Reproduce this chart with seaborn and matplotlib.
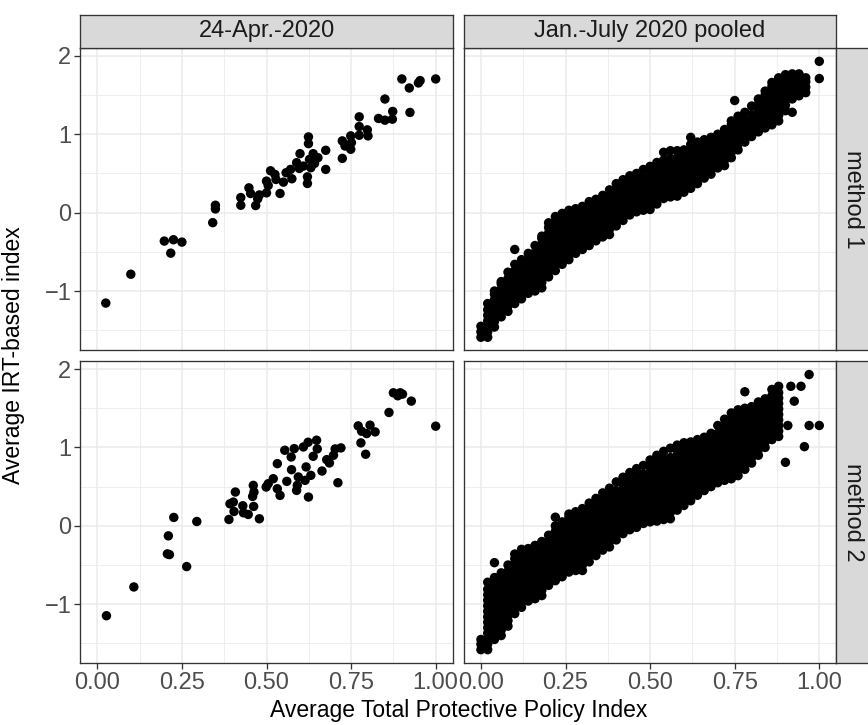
import numpy as np
import pandas as pd
import matplotlib.pyplot as plt
import seaborn as sns

# =============================================================================
# Data
# =============================================================================
periods = ["24-Apr.-2020", "Jan.-July 2020 pooled"]
methods = ["method 1", "method 2"]
x_ticks = [0.0, 0.25, 0.5, 0.75, 1.0]
x_tick_labels = ["0.00", "0.25", "0.50", "0.75", "1.00"]
y_ticks = [-1, 0, 1, 2]
y_tick_labels = ["\u22121", "0", "1", "2"]

# single day, method 1
apr_m1_x = [0.025, 0.099, 0.198, 0.225, 0.250, 0.217, 0.341, 0.349, 0.349, 0.424,
            0.424, 0.448, 0.453, 0.468, 0.474, 0.479, 0.500, 0.500, 0.505, 0.512,
            0.525, 0.528, 0.540, 0.550, 0.558, 0.571, 0.575, 0.589, 0.597, 0.599,
            0.609, 0.621, 0.621, 0.624, 0.624, 0.627, 0.631, 0.638, 0.642, 0.652,
            0.675, 0.675, 0.724, 0.724, 0.732, 0.749, 0.749, 0.751, 0.774, 0.774,
            0.774, 0.798, 0.800, 0.831, 0.850, 0.850, 0.872, 0.873, 0.900, 0.922,
            0.924, 0.949, 0.954, 1.000]
apr_m1_y = [-1.154, -0.786, -0.363, -0.346, -0.376, -0.517, -0.128, 0.094, 0.047, 0.192,
            0.094, 0.316, 0.244, 0.090, 0.175, 0.226, 0.252, 0.402, 0.346, 0.534,
            0.487, 0.423, 0.244, 0.389, 0.509, 0.551, 0.432, 0.637, 0.564, 0.752,
            0.594, 0.372, 0.457, 0.966, 0.880, 0.679, 0.573, 0.752, 0.628, 0.701,
            0.795, 0.551, 0.692, 0.915, 0.850, 0.808, 0.979, 0.893, 1.222, 1.098,
            0.987, 1.056, 0.979, 1.201, 1.179, 1.449, 1.192, 1.291, 1.705, 1.590,
            1.278, 1.654, 1.684, 1.705]

# single day, method 2
apr_m2_x = [0.027, 0.108, 0.207, 0.210, 0.213, 0.226, 0.264, 0.294, 0.389, 0.392,
            0.402, 0.404, 0.408, 0.430, 0.432, 0.446, 0.459, 0.461, 0.462, 0.463,
            0.479, 0.499, 0.505, 0.520, 0.532, 0.532, 0.540, 0.554, 0.560, 0.573,
            0.574, 0.582, 0.589, 0.591, 0.594, 0.609, 0.614, 0.617, 0.623, 0.624,
            0.631, 0.638, 0.648, 0.650, 0.664, 0.678, 0.686, 0.698, 0.703, 0.711,
            0.720, 0.771, 0.779, 0.781, 0.793, 0.796, 0.806, 0.821, 0.862, 0.875,
            0.888, 0.895, 0.902, 0.928, 1.000]
apr_m2_y = [-1.147, -0.780, -0.358, -0.128, -0.367, 0.107, -0.520, 0.055, 0.081, 0.281,
            0.303, 0.183, 0.431, 0.256, 0.166, 0.145, 0.375, 0.516, 0.247, 0.431,
            0.090, 0.495, 0.537, 0.601, 0.793, 0.473, 0.388, 0.964, 0.567, 0.878,
            0.716, 0.985, 0.452, 0.516, 0.623, 1.006, 0.580, 0.751, 1.066, 0.367,
            0.644, 0.887, 1.092, 0.981, 0.699, 0.844, 0.802, 0.900, 0.981, 0.550,
            0.994, 1.275, 1.058, 1.207, 0.913, 1.177, 1.284, 1.198, 1.446, 1.697,
            1.659, 1.697, 1.680, 1.591, 1.271]

# pooled, method 1: (policy index, [IRT values estimated down that column])
pooled_m1 = [
    (0.00, [-1.59, -1.52, -1.45]),
    (0.02, [-1.59, -1.52, -1.45, -1.38, -1.31, -1.24, -1.16]),
    (0.04, [-1.46, -1.39, -1.32, -1.25, -1.18, -1.11, -1.04, -1.00]),
    (0.06, [-1.33, -1.26, -1.19, -1.12, -1.05, -0.98, -0.91, -0.88]),
    (0.08, [-1.26, -1.19, -1.12, -1.05, -0.98, -0.91, -0.84, -0.76]),
    (0.10, [-1.16, -1.09, -1.02, -0.95, -0.88, -0.81, -0.74, -0.66, -0.47]),
    (0.12, [-1.10, -1.03, -0.96, -0.89, -0.82, -0.75, -0.68, -0.60]),
    (0.14, [-1.03, -0.96, -0.89, -0.82, -0.75, -0.68, -0.61, -0.52]),
    (0.16, [-1.00, -0.93, -0.86, -0.79, -0.72, -0.65, -0.58, -0.51, -0.42]),
    (0.18, [-0.96, -0.89, -0.82, -0.75, -0.68, -0.61, -0.54, -0.47, -0.40, -0.33, -0.30]),
    (0.20, [-0.82, -0.75, -0.68, -0.61, -0.54, -0.47, -0.40, -0.33, -0.26, -0.19, -0.13]),
    (0.22, [-0.74, -0.67, -0.60, -0.53, -0.46, -0.39, -0.32, -0.25, -0.18, -0.11, -0.05]),
    (0.24, [-0.66, -0.59, -0.52, -0.45, -0.38, -0.31, -0.24, -0.17, -0.10, -0.01]),
    (0.26, [-0.60, -0.53, -0.46, -0.39, -0.32, -0.25, -0.18, -0.11, -0.04, 0.03]),
    (0.28, [-0.52, -0.45, -0.38, -0.31, -0.24, -0.17, -0.10, -0.03, 0.05]),
    (0.30, [-0.47, -0.40, -0.33, -0.26, -0.19, -0.12, -0.05, 0.02, 0.08]),
    (0.32, [-0.42, -0.35, -0.28, -0.21, -0.14, -0.07, 0.00, 0.07, 0.14]),
    (0.34, [-0.36, -0.29, -0.22, -0.15, -0.08, -0.01, 0.06, 0.13, 0.17]),
    (0.36, [-0.31, -0.24, -0.17, -0.10, -0.03, 0.04, 0.11, 0.18, 0.22]),
    (0.38, [-0.28, -0.21, -0.14, -0.07, 0.00, 0.07, 0.14, 0.21, 0.29]),
    (0.40, [-0.17, -0.10, -0.03, 0.04, 0.11, 0.18, 0.25, 0.32, 0.37]),
    (0.42, [-0.10, -0.03, 0.04, 0.11, 0.18, 0.25, 0.32, 0.39, 0.42]),
    (0.44, [-0.03, 0.04, 0.11, 0.18, 0.25, 0.32, 0.39, 0.47]),
    (0.46, [0.01, 0.08, 0.15, 0.22, 0.29, 0.36, 0.43, 0.50]),
    (0.48, [0.03, 0.10, 0.17, 0.24, 0.31, 0.38, 0.45, 0.55]),
    (0.50, [0.04, 0.11, 0.18, 0.25, 0.32, 0.39, 0.46, 0.53, 0.59]),
    (0.52, [0.11, 0.18, 0.25, 0.32, 0.39, 0.46, 0.53, 0.60, 0.64]),
    (0.54, [0.18, 0.25, 0.32, 0.39, 0.46, 0.53, 0.60, 0.67, 0.77]),
    (0.56, [0.20, 0.27, 0.34, 0.41, 0.48, 0.55, 0.62, 0.69, 0.79]),
    (0.58, [0.21, 0.28, 0.35, 0.42, 0.49, 0.56, 0.63, 0.70, 0.79]),
    (0.60, [0.26, 0.33, 0.40, 0.47, 0.54, 0.61, 0.68, 0.75, 0.80]),
    (0.62, [0.31, 0.38, 0.45, 0.52, 0.59, 0.66, 0.73, 0.80, 0.87, 0.96]),
    (0.64, [0.37, 0.44, 0.51, 0.58, 0.65, 0.72, 0.79, 0.86, 0.90]),
    (0.66, [0.44, 0.51, 0.58, 0.65, 0.72, 0.79, 0.86, 0.93]),
    (0.68, [0.49, 0.56, 0.63, 0.70, 0.77, 0.84, 0.91, 0.96]),
    (0.70, [0.57, 0.64, 0.71, 0.78, 0.85, 0.92, 1.00]),
    (0.72, [0.60, 0.67, 0.74, 0.81, 0.88, 0.95, 1.02, 1.06]),
    (0.74, [0.70, 0.77, 0.84, 0.91, 0.98, 1.05, 1.12, 1.17]),
    (0.75, [1.43]),
    (0.76, [0.80, 0.87, 0.94, 1.01, 1.08, 1.15, 1.23]),
    (0.78, [0.90, 0.97, 1.04, 1.11, 1.18, 1.28]),
    (0.80, [0.97, 1.04, 1.11, 1.18, 1.25, 1.36]),
    (0.82, [1.03, 1.10, 1.17, 1.24, 1.31, 1.38, 1.45]),
    (0.84, [1.08, 1.15, 1.22, 1.29, 1.36, 1.43, 1.50, 1.55]),
    (0.86, [1.12, 1.19, 1.26, 1.33, 1.40, 1.47, 1.54, 1.61, 1.66]),
    (0.88, [1.17, 1.24, 1.31, 1.38, 1.45, 1.52, 1.59, 1.66, 1.72]),
    (0.90, [1.30, 1.37, 1.44, 1.51, 1.58, 1.65, 1.72, 1.76]),
    (0.92, [1.28, 1.45, 1.52, 1.59, 1.66, 1.73, 1.77]),
    (0.94, [1.49, 1.56, 1.63, 1.70, 1.77]),
    (0.96, [1.53, 1.60, 1.67, 1.72]),
    (1.00, [1.71, 1.93]),
]

# pooled, method 2
pooled_m2 = [
    (0.00, [-1.58, -1.51, -1.45]),
    (0.02, [-1.58, -1.51, -1.44, -1.37, -1.30, -1.23, -1.16, -1.09, -1.02, -0.95, -0.88, -0.81, -0.72]),
    (0.04, [-1.45, -1.38, -1.31, -1.24, -1.17, -1.10, -1.03, -0.96, -0.89, -0.82, -0.75, -0.66, -0.47]),
    (0.06, [-1.40, -1.33, -1.26, -1.19, -1.12, -1.05, -0.98, -0.91, -0.84, -0.77, -0.70, -0.60]),
    (0.08, [-1.28, -1.21, -1.14, -1.07, -1.00, -0.93, -0.86, -0.79, -0.72, -0.65, -0.58, -0.50]),
    (0.10, [-1.12, -1.05, -0.98, -0.91, -0.84, -0.77, -0.70, -0.63, -0.56, -0.49, -0.42, -0.36]),
    (0.12, [-1.04, -0.97, -0.90, -0.83, -0.76, -0.69, -0.62, -0.55, -0.48, -0.41, -0.34, -0.30]),
    (0.14, [-0.96, -0.89, -0.82, -0.75, -0.68, -0.61, -0.54, -0.47, -0.40, -0.33, -0.29]),
    (0.16, [-0.93, -0.86, -0.79, -0.72, -0.65, -0.58, -0.51, -0.44, -0.37, -0.30, -0.25]),
    (0.18, [-0.89, -0.82, -0.75, -0.68, -0.61, -0.54, -0.47, -0.40, -0.33, -0.26, -0.20]),
    (0.20, [-0.76, -0.69, -0.62, -0.55, -0.48, -0.41, -0.34, -0.27, -0.20, -0.12]),
    (0.22, [-0.70, -0.63, -0.56, -0.49, -0.42, -0.35, -0.28, -0.21, -0.14, -0.07, 0.00, 0.11]),
    (0.24, [-0.65, -0.58, -0.51, -0.44, -0.37, -0.30, -0.23, -0.16, -0.09, -0.02, 0.05]),
    (0.26, [-0.59, -0.52, -0.45, -0.38, -0.31, -0.24, -0.17, -0.10, -0.03, 0.04, 0.11, 0.15]),
    (0.28, [-0.57, -0.50, -0.43, -0.36, -0.29, -0.22, -0.15, -0.08, -0.01, 0.06, 0.13, 0.18]),
    (0.30, [-0.57, -0.50, -0.43, -0.36, -0.29, -0.22, -0.15, -0.08, -0.01, 0.06, 0.13, 0.22]),
    (0.32, [-0.46, -0.39, -0.32, -0.25, -0.18, -0.11, -0.04, 0.03, 0.10, 0.17, 0.24, 0.29]),
    (0.34, [-0.38, -0.31, -0.24, -0.17, -0.10, -0.03, 0.04, 0.11, 0.18, 0.25, 0.35]),
    (0.36, [-0.31, -0.24, -0.17, -0.10, -0.03, 0.04, 0.11, 0.18, 0.25, 0.32, 0.42]),
    (0.38, [-0.27, -0.20, -0.13, -0.06, 0.01, 0.08, 0.15, 0.22, 0.29, 0.36, 0.43, 0.48]),
    (0.40, [-0.18, -0.11, -0.04, 0.03, 0.10, 0.17, 0.24, 0.31, 0.38, 0.45, 0.56]),
    (0.42, [-0.10, -0.03, 0.04, 0.11, 0.18, 0.25, 0.32, 0.39, 0.46, 0.53, 0.62]),
    (0.44, [-0.05, 0.02, 0.09, 0.16, 0.23, 0.30, 0.37, 0.44, 0.51, 0.58, 0.68]),
    (0.46, [-0.02, 0.05, 0.12, 0.19, 0.26, 0.33, 0.40, 0.47, 0.54, 0.61, 0.68, 0.73]),
    (0.48, [0.03, 0.10, 0.17, 0.24, 0.31, 0.38, 0.45, 0.52, 0.59, 0.66, 0.77]),
    (0.50, [0.05, 0.12, 0.19, 0.26, 0.33, 0.40, 0.47, 0.54, 0.61, 0.68, 0.75, 0.84]),
    (0.52, [0.06, 0.13, 0.20, 0.27, 0.34, 0.41, 0.48, 0.55, 0.62, 0.69, 0.76, 0.83, 0.90]),
    (0.54, [0.08, 0.15, 0.22, 0.29, 0.36, 0.43, 0.50, 0.57, 0.64, 0.71, 0.78, 0.85, 0.95]),
    (0.56, [0.09, 0.17, 0.24, 0.31, 0.38, 0.45, 0.52, 0.59, 0.66, 0.73, 0.80, 0.87, 0.99]),
    (0.58, [0.20, 0.27, 0.34, 0.41, 0.48, 0.55, 0.62, 0.69, 0.76, 0.83, 0.90, 0.97, 1.03]),
    (0.60, [0.26, 0.33, 0.40, 0.47, 0.54, 0.61, 0.68, 0.75, 0.82, 0.89, 0.96, 1.06]),
    (0.62, [0.32, 0.39, 0.46, 0.53, 0.60, 0.67, 0.74, 0.81, 0.88, 0.95, 1.02, 1.07]),
    (0.64, [0.39, 0.46, 0.53, 0.60, 0.67, 0.74, 0.81, 0.88, 0.95, 1.02, 1.10]),
    (0.66, [0.45, 0.52, 0.59, 0.66, 0.73, 0.80, 0.87, 0.94, 1.01, 1.08, 1.13]),
    (0.68, [0.50, 0.57, 0.64, 0.71, 0.78, 0.85, 0.92, 0.99, 1.06, 1.13, 1.18]),
    (0.70, [0.55, 0.62, 0.69, 0.76, 0.83, 0.90, 0.97, 1.04, 1.11, 1.18, 1.28]),
    (0.72, [0.58, 0.65, 0.72, 0.79, 0.86, 0.93, 1.00, 1.07, 1.14, 1.21, 1.28, 1.36]),
    (0.74, [0.60, 0.67, 0.74, 0.81, 0.88, 0.95, 1.02, 1.09, 1.16, 1.23, 1.30, 1.37, 1.44]),
    (0.76, [0.64, 0.71, 0.78, 0.85, 0.92, 0.99, 1.06, 1.13, 1.20, 1.27, 1.34, 1.41, 1.48]),
    (0.78, [0.72, 0.79, 0.86, 0.93, 1.00, 1.07, 1.14, 1.21, 1.28, 1.35, 1.42, 1.50, 1.71]),
    (0.80, [0.80, 0.87, 0.94, 1.01, 1.08, 1.15, 1.22, 1.29, 1.36, 1.43, 1.52]),
    (0.82, [0.90, 0.97, 1.04, 1.11, 1.18, 1.25, 1.32, 1.39, 1.46, 1.52, 1.58]),
    (0.84, [1.00, 1.07, 1.14, 1.21, 1.28, 1.35, 1.42, 1.49, 1.56, 1.62]),
    (0.86, [1.10, 1.17, 1.24, 1.31, 1.38, 1.45, 1.52, 1.59, 1.66, 1.74]),
    (0.88, [1.14, 1.21, 1.28, 1.35, 1.42, 1.49, 1.56, 1.63, 1.70, 1.78]),
    (0.90, [0.81]),
    (0.907, [1.28]),
    (0.916, [1.78]),
    (0.926, [1.59]),
    (0.946, [1.78]),
    (0.956, [1.01]),
    (0.97, [1.28, 1.93]),
    (1.00, [1.28]),
]


# =============================================================================
# Long table for plotting
# =============================================================================
def expand(cols):
    xs = [x for x, ys in cols for _ in ys]
    ys = [y for _, ys in cols for y in ys]
    return xs, ys


frames = []
for period, method, (xs, ys) in [
    (periods[0], methods[0], (apr_m1_x, apr_m1_y)),
    (periods[0], methods[1], (apr_m2_x, apr_m2_y)),
    (periods[1], methods[0], expand(pooled_m1)),
    (periods[1], methods[1], expand(pooled_m2)),
]:
    frames.append(pd.DataFrame({"period": period, "method": method,
                                "policy": xs, "irt": ys}))
df = pd.concat(frames, ignore_index=True)

# =============================================================================
# Figure (ggplot theme_bw look)
# =============================================================================
sns.set_theme(style="white")
plt.rcParams["font.family"] = ["Liberation Sans", "DejaVu Sans"]

W, H = 868, 725
fig = plt.figure(figsize=(W / 100, H / 100), dpi=100)


def px_rect(left, top, width, height):
    return [left / W, 1 - (top + height) / H, width / W, height / H]


col_left = [80.4, 464.0]
row_top = [48.0, 361.2]
pw, ph = 372.2, 301.8
strip_h = 33.5

TICK_FS = 17
STRIP_FS = 17
TITLE_FS = 16.5
DARK = "#333333"

for r, method in enumerate(methods):
    for c, period in enumerate(periods):
        ax = fig.add_axes(px_rect(col_left[c], row_top[r], pw, ph))
        sub = df[(df["period"] == period) & (df["method"] == method)]
        sns.scatterplot(data=sub, x="policy", y="irt", ax=ax, color="black",
                        s=46, linewidth=0, edgecolor="none", legend=False)
        ax.set_xlim(-0.05, 1.05)
        ax.set_ylim(-1.75, 2.10)
        ax.set_xticks(x_ticks)
        ax.set_xticklabels(x_tick_labels)
        ax.set_yticks(y_ticks)
        ax.set_yticklabels(y_tick_labels)
        ax.set_xticks([0.125, 0.375, 0.625, 0.875], minor=True)
        ax.set_yticks([-1.5, -0.5, 0.5, 1.5], minor=True)
        ax.set_axisbelow(True)
        ax.grid(which="major", color="#EBEBEB", linewidth=1.15)
        ax.grid(which="minor", color="#EBEBEB", linewidth=0.6)
        ax.tick_params(which="minor", length=0)
        ax.tick_params(which="major", length=4, width=0.95, color=DARK,
                       labelcolor="#4D4D4D", labelsize=TICK_FS, pad=2.5)
        ax.tick_params(left=(c == 0), labelleft=(c == 0),
                       bottom=(r == 1), labelbottom=(r == 1))
        ax.set_xlabel("")
        ax.set_ylabel("")
        for sp in ax.spines.values():
            sp.set_color(DARK)
            sp.set_linewidth(0.95)

        # top strips
        if r == 0:
            sax = fig.add_axes(px_rect(col_left[c], row_top[0] - strip_h, pw, strip_h))
            sax.set_facecolor("#D9D9D9")
            sax.set_xticks([])
            sax.set_yticks([])
            for sp in sax.spines.values():
                sp.set_color(DARK)
                sp.set_linewidth(0.95)
            sax.text(0.5, 0.5, period, ha="center", va="center",
                     fontsize=STRIP_FS, color="#1A1A1A", transform=sax.transAxes)

    # right strips (cut by the figure edge as in the reference)
    rax = fig.add_axes(px_rect(col_left[1] + pw, row_top[r], strip_h, ph))
    rax.set_facecolor("#D9D9D9")
    rax.set_xticks([])
    rax.set_yticks([])
    for sp in rax.spines.values():
        sp.set_color(DARK)
        sp.set_linewidth(0.95)
    rax.text(0.5, 0.5, method, ha="center", va="center", rotation=-90,
             fontsize=STRIP_FS, color="#1A1A1A", transform=rax.transAxes)

panels_mid_x = (col_left[0] + col_left[1] + pw) / 2
panels_mid_y = (row_top[0] + row_top[1] + ph) / 2
fig.text(panels_mid_x / W, 1 - 711 / H, "Average Total Protective Policy Index",
         ha="center", va="center", fontsize=TITLE_FS, color="black")
fig.text(14 / W, 1 - panels_mid_y / H, "Average IRT-based index",
         ha="center", va="center", rotation=90, fontsize=TITLE_FS, color="black")

fig.savefig("out.png", dpi=100)
